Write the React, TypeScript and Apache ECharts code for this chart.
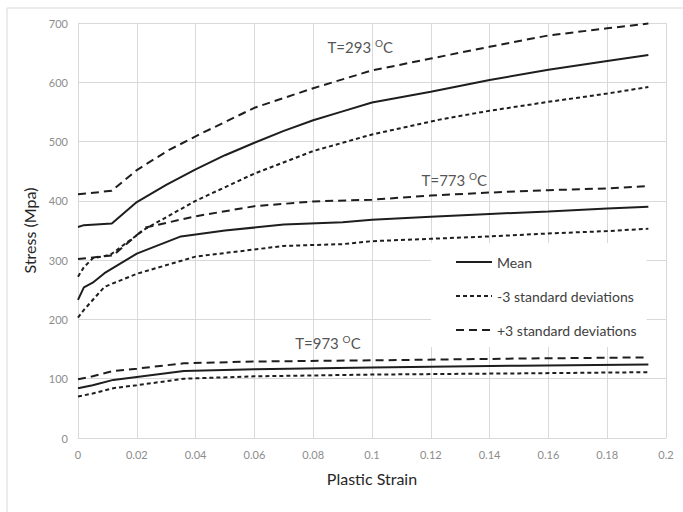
import React, { useEffect, useRef } from "react";
import * as echarts from "echarts";

// Strain (x) and stress (y, MPa) values
const t293MeanX = [0, 0.002, 0.0115, 0.02, 0.03, 0.04, 0.05, 0.06, 0.07, 0.08, 0.09, 0.1, 0.12, 0.14, 0.16, 0.18, 0.194];
const t293MeanY = [356, 359, 362, 398, 427, 453, 477, 498, 518, 536, 551, 566, 584, 604, 621, 636, 646];
const t293PlusX = [0, 0.0115, 0.02, 0.031, 0.0425, 0.06, 0.08, 0.1, 0.12, 0.14, 0.16, 0.18, 0.194];
const t293PlusY = [411, 417, 452, 486, 515, 557, 590, 620, 640, 660, 679, 691, 699];
const t293MinusX = [0, 0.002, 0.005, 0.011, 0.023, 0.04, 0.06, 0.08, 0.1, 0.123, 0.14, 0.16, 0.18, 0.194];
const t293MinusY = [272, 288, 303, 309, 353, 400, 446, 484, 512, 537, 552, 567, 581, 592];

const t773MeanX = [0, 0.002, 0.005, 0.009, 0.02, 0.035, 0.05, 0.07, 0.09, 0.1, 0.12, 0.14, 0.16, 0.18, 0.194];
const t773MeanY = [233, 254, 262, 278, 311, 340, 350, 360, 364, 368, 373, 378, 382, 387, 390];
const t773PlusX = [0, 0.012, 0.023, 0.04, 0.06, 0.08, 0.1, 0.12, 0.14, 0.16, 0.18, 0.194];
const t773PlusY = [302, 308, 355, 374, 391, 399, 402, 409, 414, 418, 421, 425];
const t773MinusX = [0, 0.002, 0.009, 0.02, 0.04, 0.06, 0.07, 0.09, 0.1, 0.12, 0.14, 0.16, 0.18, 0.194];
const t773MinusY = [203, 216, 255, 277, 306, 318, 324, 327, 332, 336, 340, 345, 349, 353];

const t973X = [0, 0.005, 0.012, 0.02, 0.036, 0.06, 0.1, 0.15, 0.194];
const t973MeanY = [84, 89, 98, 103, 113, 116, 119, 122, 124];
const t973PlusY = [99, 104, 113, 117, 126, 129, 131, 134, 136];
const t973MinusY = [70, 75, 84, 89, 100, 104, 107, 109, 111];

const legendNames = ["Mean", "-3 standard deviations", "+3 standard deviations"];

const annotationTemps = ["293", "773", "973"];
const annotationX = [0.096, 0.128, 0.085];
const annotationY = [659, 435, 160];

const zip = (xs: number[], ys: number[]) => xs.map((x, i) => [x, ys[i]]);

const FONT = "Lato, 'Open Sans', sans-serif";
const INK = "#1e1e1e";

export default function App() {
  const ref = useRef<HTMLDivElement>(null);
  useEffect(() => {
    if (!ref.current) return;
    const chart = echarts.init(ref.current, undefined, { renderer: "svg" });

    const styles: Record<string, any> = {
      "Mean": { type: "solid", width: 2 },
      "-3 standard deviations": { type: [4, 3], width: 2 },
      "+3 standard deviations": { type: [8, 5], width: 2 },
    };
    const mk = (name: string, data: number[][]) => ({
      name,
      type: "line",
      data,
      symbol: "none",
      showSymbol: false,
      smooth: false,
      color: INK,
      lineStyle: { color: INK, ...styles[name] },
      z: 3,
    });

    const series: any[] = [
      mk("Mean", zip(t293MeanX, t293MeanY)),
      mk("-3 standard deviations", zip(t293MinusX, t293MinusY)),
      mk("+3 standard deviations", zip(t293PlusX, t293PlusY)),
      mk("Mean", zip(t773MeanX, t773MeanY)),
      mk("-3 standard deviations", zip(t773MinusX, t773MinusY)),
      mk("+3 standard deviations", zip(t773PlusX, t773PlusY)),
      mk("Mean", zip(t973X, t973MeanY)),
      mk("-3 standard deviations", zip(t973X, t973MinusY)),
      mk("+3 standard deviations", zip(t973X, t973PlusY)),
      {
        name: "labels",
        type: "scatter",
        symbolSize: 0,
        silent: true,
        data: annotationTemps.map((t, i) => ({ value: [annotationX[i], annotationY[i]], name: t })),
        label: {
          show: true,
          position: "inside",
          formatter: (p: any) => `{b|T=${p.name} }{s|O}{b|C}`,
          rich: {
            b: { fontSize: 15, color: "#262626", fontFamily: FONT },
            s: { fontSize: 10, color: "#262626", fontFamily: FONT, padding: [0, 0, 8, 0] },
          },
        },
      },
    ];

    chart.setOption({
      animation: false,
      backgroundColor: "#ffffff",
      textStyle: { fontFamily: FONT },
      graphic: [
        {
          type: "rect",
          shape: { x: 7, y: 8, width: 700, height: 520 },
          style: { fill: "none", stroke: "#d9d9d9", lineWidth: 1 },
          z: -1,
          silent: true,
        },
      ],
      grid: { left: 78, right: 17, top: 23, bottom: 74, containLabel: false },
      legend: {
        data: legendNames,
        orient: "vertical",
        left: 431,
        top: 243,
        width: 224,
        padding: [11, 10, 9, 24],
        itemGap: 18,
        itemWidth: 36,
        itemHeight: 14,
        backgroundColor: "#ffffff",
        itemStyle: { color: "rgba(0,0,0,0)", borderColor: "rgba(0,0,0,0)", borderWidth: 0, opacity: 0 },
        textStyle: { fontSize: 14, color: "#404040", fontFamily: FONT, lineHeight: 16 },
        selectedMode: false,
      },
      xAxis: {
        type: "value",
        min: 0,
        max: 0.2,
        interval: 0.02,
        name: "Plastic Strain",
        nameLocation: "middle",
        nameGap: 32,
        nameTextStyle: { fontSize: 16, color: "#262626", fontFamily: FONT },
        axisLine: { show: true, lineStyle: { color: "#d9d9d9" } },
        axisTick: { show: false },
        axisLabel: {
          fontSize: 11,
          color: "#8c8c8c",
          margin: 11,
          formatter: (v: number) => String(+v.toFixed(2)),
        },
        splitLine: { show: true, lineStyle: { color: "#d9d9d9" } },
      },
      yAxis: {
        type: "value",
        min: 0,
        max: 700,
        interval: 100,
        name: "Stress (Mpa)",
        nameLocation: "middle",
        nameGap: 30,
        nameTextStyle: { fontSize: 16, color: "#262626", fontFamily: FONT },
        axisLine: { show: true, lineStyle: { color: "#d9d9d9" } },
        axisTick: { show: false },
        axisLabel: { fontSize: 11, color: "#8c8c8c", margin: 10 },
        splitLine: { show: true, lineStyle: { color: "#d9d9d9" } },
      },
      series,
    });
    return () => chart.dispose();
  }, []);
  return (
    <div
      ref={ref}
      style={{ position: "fixed", left: 0, top: 0, width: 683, height: 512, background: "#fff" }}
    />
  );
}
